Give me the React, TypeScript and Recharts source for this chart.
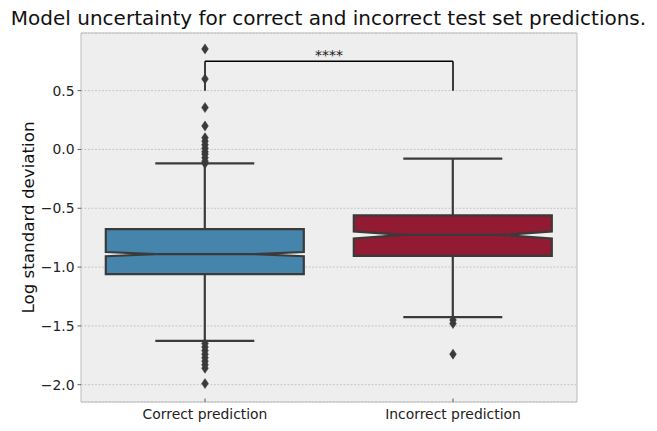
import React from 'react';
import {
  ComposedChart,
  Bar,
  Scatter,
  XAxis,
  YAxis,
  CartesianGrid,
  ReferenceLine,
  ReferenceArea,
  ReferenceDot,
  Label,
} from 'recharts';

// categories and box statistics (log std)
const categories = ['Correct prediction', 'Incorrect prediction'];
const q1 = [-1.06, -0.905];
const q3 = [-0.678, -0.56];
const medians = [-0.89, -0.727];
const notchLo = [-0.908, -0.757];
const notchHi = [-0.872, -0.697];
const whiskerLo = [-1.627, -1.425];
const whiskerHi = [-0.119, -0.078];
const boxColors = ['#4585AC', '#921A32'];

const outliersCorrect = [
  0.855, 0.6, 0.356, 0.2, 0.1, 0.07, 0.04, 0.01, -0.02, -0.04, -0.07, -0.1, -0.12,
  -1.65, -1.68, -1.71, -1.74, -1.77, -1.8, -1.83, -1.86, -1.99,
];
const outliersIncorrect = [-1.45, -1.48, -1.74];

const yTicks = [-2.0, -1.5, -1.0, -0.5, 0.0, 0.5];
const yDomain: [number, number] = [-2.147, 0.99];

// significance bracket
const bracketLow = 0.5;
const bracketHigh = 0.75;
const bracketText = '****';

const LINE = '#3a3a3a';
const FONT = '"DejaVu Sans", sans-serif';

const boxData = categories.map((name, i) => ({
  name,
  box: [q1[i], q3[i]],
  q1: q1[i],
  q3: q3[i],
  med: medians[i],
  nlo: notchLo[i],
  nhi: notchHi[i],
  wlo: whiskerLo[i],
  whi: whiskerHi[i],
  color: boxColors[i],
}));

const outlierData = [
  ...outliersCorrect.map((v) => ({ x: 0, y: v })),
  ...outliersIncorrect.map((v) => ({ x: 1, y: v })),
];

// notched box + whiskers, positioned from the bar's own scaled geometry
const NotchedBox = (props: any) => {
  const { x, y, width, height, payload } = props;
  const top = Math.min(y, y + height);
  const k = Math.abs(height) / (payload.q3 - payload.q1);
  const yOf = (v: number) => top + (payload.q3 - v) * k;
  const l = x;
  const r = x + width;
  const cx = x + width / 2;
  const qw = width / 4;
  const path = [
    `M${l},${yOf(payload.q1)}`,
    `L${l},${yOf(payload.nlo)}`,
    `L${l + qw},${yOf(payload.med)}`,
    `L${l},${yOf(payload.nhi)}`,
    `L${l},${yOf(payload.q3)}`,
    `L${r},${yOf(payload.q3)}`,
    `L${r},${yOf(payload.nhi)}`,
    `L${r - qw},${yOf(payload.med)}`,
    `L${r},${yOf(payload.nlo)}`,
    `L${r},${yOf(payload.q1)}`,
    'Z',
  ].join(' ');
  return (
    <g>
      <line x1={cx} x2={cx} y1={yOf(payload.q3)} y2={yOf(payload.whi)} stroke={LINE} strokeWidth={2.2} />
      <line x1={cx} x2={cx} y1={yOf(payload.q1)} y2={yOf(payload.wlo)} stroke={LINE} strokeWidth={2.2} />
      <line x1={cx - qw} x2={cx + qw} y1={yOf(payload.whi)} y2={yOf(payload.whi)} stroke={LINE} strokeWidth={2.2} />
      <line x1={cx - qw} x2={cx + qw} y1={yOf(payload.wlo)} y2={yOf(payload.wlo)} stroke={LINE} strokeWidth={2.2} />
      <path d={path} fill={payload.color} stroke={LINE} strokeWidth={2.2} strokeLinejoin="miter" />
      <line x1={l + qw} x2={r - qw} y1={yOf(payload.med)} y2={yOf(payload.med)} stroke={LINE} strokeWidth={2.2} />
    </g>
  );
};

const Diamond = (props: any) => {
  const { cx, cy } = props;
  const w = 3.4;
  const h = 5;
  return (
    <polygon
      points={`${cx},${cy - h} ${cx + w},${cy} ${cx},${cy + h} ${cx - w},${cy}`}
      fill={LINE}
      stroke={LINE}
      strokeWidth={0.5}
    />
  );
};

const XTick = (props: any) => {
  const { x, y, payload } = props;
  return (
    <g>
      <line x1={x} x2={x} y1={y - 3.5} y2={y} stroke="#333" strokeWidth={0.8} />
      <text x={x} y={y + 17} textAnchor="middle" fontSize={13.9} fontFamily={FONT} fill="#222">
        {payload.value}
      </text>
    </g>
  );
};

export default function App() {
  return (
    <div style={{ position: 'absolute', left: 0, top: 0, width: 657, height: 431, background: '#fff' }}>
      <div
        style={{
          position: 'absolute',
          left: 0,
          top: 8,
          width: 657,
          textAlign: 'center',
          fontFamily: FONT,
          fontSize: 20,
          lineHeight: 1,
          color: '#111',
        }}
      >
        Model uncertainty for correct and incorrect test set predictions.
      </div>
      <ComposedChart
        width={657}
        height={431}
        data={boxData}
        margin={{ top: 33, right: 80, bottom: 0, left: 0 }}
        barCategoryGap="10%"
      >
        <CartesianGrid
          xAxisId="cat"
          vertical={false}
          fill="#eeeeee"
          stroke="#b5b5b5"
          strokeWidth={0.7}
          strokeDasharray="2 1.5"
        />
        <XAxis
          xAxisId="cat"
          dataKey="name"
          type="category"
          height={29}
          axisLine={false}
          tickLine={false}
          tickSize={0}
          tickMargin={0}
          tick={<XTick />}
        />
        <XAxis xAxisId="num" dataKey="x" type="number" domain={[-0.5, 1.5]} allowDataOverflow hide />
        <YAxis
          type="number"
          width={81}
          domain={yDomain}
          ticks={yTicks}
          allowDataOverflow
          axisLine={false}
          tickSize={3.5}
          tickMargin={3}
          tickLine={{ stroke: '#333', strokeWidth: 0.8 }}
          tick={{ fontSize: 13.9, fontFamily: FONT, fill: '#222' }}
          tickFormatter={(v: number) => v.toFixed(1).replace('-', '\u2212')}
        >
          <Label
            value="Log standard deviation"
            angle={-90}
            position="insideLeft"
            offset={28}
            style={{ textAnchor: 'middle', fontSize: 16.7, fontFamily: FONT, fill: '#111' }}
          />
        </YAxis>
        <Bar xAxisId="cat" dataKey="box" shape={<NotchedBox />} isAnimationActive={false} />
        <Scatter
          xAxisId="num"
          data={outlierData}
          dataKey="y"
          shape={<Diamond />}
          isAnimationActive={false}
        />
        <ReferenceLine
          xAxisId="num"
          segment={[{ x: 0, y: bracketLow }, { x: 0, y: bracketHigh }]}
          stroke="#000"
          strokeWidth={1.5}
          ifOverflow="visible"
        />
        <ReferenceLine
          xAxisId="num"
          segment={[{ x: 0, y: bracketHigh }, { x: 1, y: bracketHigh }]}
          stroke="#000"
          strokeWidth={1.5}
          ifOverflow="visible"
        />
        <ReferenceLine
          xAxisId="num"
          segment={[{ x: 1, y: bracketHigh }, { x: 1, y: bracketLow }]}
          stroke="#000"
          strokeWidth={1.5}
          ifOverflow="visible"
        />
        <ReferenceDot
          xAxisId="num"
          x={0.5}
          y={bracketHigh}
          r={0}
          fill="none"
          stroke="none"
          ifOverflow="visible"
          label={{ value: bracketText, position: 'top', offset: 1, fontSize: 13.9, fontFamily: FONT, fill: '#222' }}
        />
        <ReferenceArea
          xAxisId="num"
          x1={-0.5}
          x2={1.5}
          y1={yDomain[0]}
          y2={yDomain[1]}
          fill="none"
          stroke="#bcbcbc"
          strokeWidth={1}
          ifOverflow="visible"
        />
      </ComposedChart>
    </div>
  );
}
